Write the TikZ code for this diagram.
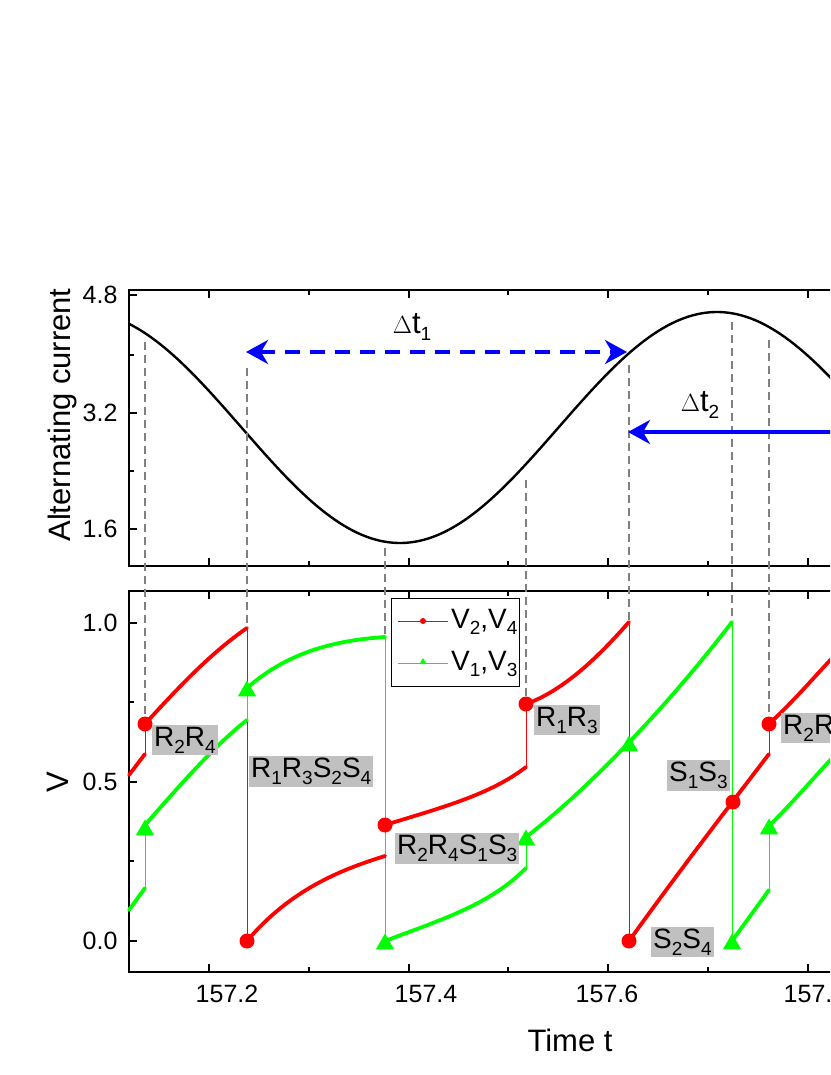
\documentclass[tikz,border=0pt]{standalone}
\usepackage{fontspec}
\setmainfont{Liberation Sans}
\usetikzlibrary{arrows.meta,shapes.geometric}
\definecolor{rd}{RGB}{255,0,0}
\definecolor{gr}{RGB}{0,255,0}
\definecolor{bl}{RGB}{0,0,255}
\definecolor{bx}{RGB}{192,192,192}
\tikzset{
  thk/.style={line width=3.8pt,line cap=round},
  thn/.style={line width=0.7pt},
  gdash/.style={gray,line width=1.7pt,dash pattern=on 8pt off 5pt},
  dotm/.style={circle,fill=rd,inner sep=0pt,minimum size=15pt},
  trim/.style={regular polygon,regular polygon sides=3,fill=gr,inner sep=0pt,minimum size=21pt},
  lbl/.style={fill=bx,inner sep=2pt,font=\fontsize{28}{30}\selectfont,anchor=north west},
  tl/.style={font=\fontsize{25}{27}\selectfont},
  axl/.style={font=\fontsize{31}{33}\selectfont},
  frame/.style={line width=1.5pt},
}
\newcommand{\sbs}[1]{\raisebox{-0.45ex}{\fontsize{19}{19}\selectfont #1}}
\begin{document}
\begin{tikzpicture}[x=1pt,y=-1pt]
\useasboundingbox (0,0) rectangle (830,1075);
\clip (0,0) rectangle (830,1075);
% frames
\draw[frame] (840,290) -- (129,290) -- (129,566) -- (840,566);
\draw[frame] (840,591) -- (129,591) -- (129,972) -- (840,972);
% x ticks
\foreach \x [count=\i] in {209,309,409,508,608,708,808}{
  \pgfmathsetmacro{\len}{isodd(\i)?8:5}
  \draw[frame] (\x,290) -- ++(0,\len);
  \draw[frame] (\x,566) -- ++(0,-\len);
  \draw[frame] (\x,591) -- ++(0,\len);
  \draw[frame] (\x,972) -- ++(0,-\len);
}
% y ticks
\foreach \y/\l in {295/8,355/5,413/8,471/5,529/8}{\draw[frame] (129,\y) -- ++(\l,0);}
\foreach \y/\l in {623/8,702/5,782/8,861/5,941/8}{\draw[frame] (129,\y) -- ++(\l,0);}
% tick labels
\node[tl,anchor=east] (t48) at (121,295) {4.8};
\node[tl,anchor=east] (t32) at (121,413) {3.2};
\node[tl,anchor=east] (t16) at (121,529) {1.6};
\node[tl,anchor=east] (v10) at (121,623) {1.0};
\node[tl,anchor=east] (v05) at (121,782) {0.5};
\node[tl,anchor=east] (v00) at (121,941) {0.0};
\node[tl] (x2) at (227,994) {157.2};
\node[tl] (x4) at (426,994) {157.4};
\node[tl] (x6) at (607,994) {157.6};
\node[tl] (x8) at (815,994) {157.8};
\node[axl,rotate=90] (ylab) at (62,415) {Alternating current};
\node[axl,rotate=90] (vlab) at (58,782) {V};
\node[axl] (xlab) at (570,1040) {Time t};
% sine
\draw[line width=2.4pt] plot[domain=129:840,samples=160] (\x,{427.5-115.5*cos((\x-717)/634*360)});
% gray dashed guides
\draw[gdash] (145,342) -- (145,718);
\draw[gdash] (247,368) -- (247,628);
\draw[gdash] (385,548) -- (385,637);
\draw[gdash] (526,480) -- (526,698);
\draw[gdash] (629,365) -- (629,622);
\draw[gdash] (732,322) -- (732,622);
\draw[gdash] (769,340) -- (769,718);
% blue arrows
\coordinate (a1) at (246,352); \coordinate (a2) at (627,352);
\draw[bl,line width=4pt,dash pattern=on 15pt off 10pt,{Stealth[length=22pt,width=24pt,inset=7pt]}-{Stealth[length=22pt,width=24pt,inset=7pt]}] (a1) -- (a2);
\coordinate (b1) at (628,432); \coordinate (b2) at (840,432);
\draw[bl,line width=4pt,{Stealth[length=22pt,width=24pt,inset=7pt]}-] (b1) -- (b2);
\node[axl] (dt1) at (412,327) {$\Delta$t\sbs{1}};
\node[axl] (dt2) at (700,405) {$\Delta$t\sbs{2}};
% red thin verticals
\draw[rd,thn] (145,754) -- (145,724);
\draw[rd,thn] (247,628) -- (247,941);
\draw[rd,thn] (385,856) -- (385,825);
\draw[rd,thn] (526,767) -- (526,704);
\draw[rd,thn] (629,622) -- (629,941);
\draw[rd,thn] (769,754) -- (769,724);
% green thin verticals
\draw[gr,thn] (145,888) -- (145,825);
\draw[gr,thn] (247,720) -- (247,688);
\draw[gr,thn] (385,637) -- (385,941);
\draw[gr,thn] (526,868) -- (526,837);
\draw[gr,thn] (732,622) -- (732,941);
\draw[gr,thn] (769,890) -- (769,826);
% red thick
\draw[rd,thk] (129,775) -- (145,754);
\draw[rd,thk] (145,724) .. controls (185,680) and (215,650) .. (247,628);
\draw[rd,thk] (247,941) .. controls (290,890) and (340,870) .. (385,856);
\draw[rd,thk] (385,825) .. controls (440,808) and (490,795) .. (526,767);
\draw[rd,thk] (526,704) .. controls (565,690) and (600,655) .. (629,622);
\draw[rd,thk] (629,941) .. controls (680,870) and (730,805) .. (769,754);
\draw[rd,thk] (769,724) .. controls (800,695) and (820,670) .. (840,650);
% green thick
\draw[gr,thk] (129,910) -- (145,888);
\draw[gr,thk] (145,825) .. controls (180,785) and (215,745) .. (247,720);
\draw[gr,thk] (247,688) .. controls (290,650) and (340,640) .. (385,637);
\draw[gr,thk] (385,941) .. controls (440,920) and (490,905) .. (526,868);
\draw[gr,thk] (526,837) .. controls (600,780) and (680,690) .. (732,622);
\draw[gr,thk] (732,941) -- (769,890);
\draw[gr,thk] (769,826) .. controls (800,795) and (820,770) .. (840,750);
% markers
\foreach \p in {(145,724),(247,941),(385,825),(526,704),(629,941),(733,802),(769,724)}{\node[dotm] at \p {};}
\foreach \p in {(145,827),(247,688),(385,941),(526,837),(629,743),(732,941),(769,826)}{\node[trim,yshift=-3pt] at \p {};}
% labels
\node[lbl] (l1) at (152,725) {R\sbs{2}R\sbs{4}};
\node[lbl] (l2) at (249,756) {R\sbs{1}R\sbs{3}S\sbs{2}S\sbs{4}};
\node[lbl] (l3) at (395,833) {R\sbs{2}R\sbs{4}S\sbs{1}S\sbs{3}};
\node[lbl] (l4) at (534,705) {R\sbs{1}R\sbs{3}};
\node[lbl] (l5) at (667,760) {S\sbs{1}S\sbs{3}};
\node[lbl] (l6) at (651,927) {S\sbs{2}S\sbs{4}};
\node[lbl] (l7) at (781,713) {R\sbs{2}R\sbs{4}};
% legend
\draw[fill=white,line width=0.8pt] (391,598) rectangle (519,686);
\draw[rd,line width=0.8pt] (398,621) -- (448,621);
\fill[rd] (423,621) circle (3pt);
\draw[gr,line width=0.8pt] (398,663) -- (448,663);
\node[regular polygon,regular polygon sides=3,fill=gr,inner sep=0pt,minimum size=8pt] at (423,662) {};
\node[font=\fontsize{28}{30}\selectfont,anchor=west,inner sep=1pt] (lg1) at (450,622) {V\sbs{2},V\sbs{4}};
\node[font=\fontsize{28}{30}\selectfont,anchor=west,inner sep=1pt] (lg2) at (450,664) {V\sbs{1},V\sbs{3}};
\end{tikzpicture}
\end{document}
